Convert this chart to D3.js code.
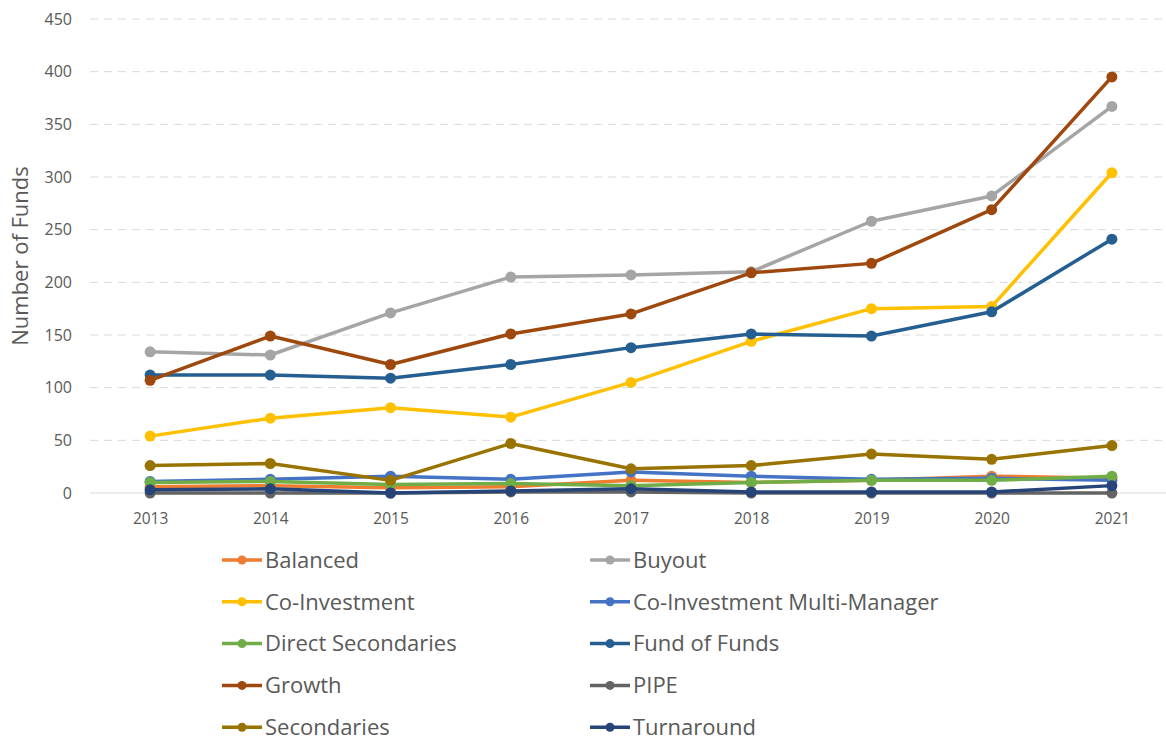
<!DOCTYPE html>
<html>
<head>
<meta charset="utf-8">
<script src="https://cdn.jsdelivr.net/npm/d3@7"></script>
<style>
  body { margin: 0; background: #fff; }
  text { font-family: "Open Sans", "Noto Sans", sans-serif; fill: #595959; }
</style>
</head>
<body>
<script>
// data
var years = ["2013", "2014", "2015", "2016", "2017", "2018", "2019", "2020", "2021"];
var seriesNames = ["Balanced", "Buyout", "Co-Investment", "Co-Investment Multi-Manager",
  "Direct Secondaries", "Fund of Funds", "Growth", "PIPE", "Secondaries", "Turnaround"];
var seriesColors = ["#ED7D31", "#A5A5A5", "#FFC000", "#4472C4", "#70AD47",
  "#255E91", "#9E480E", "#636363", "#997300", "#264478"];
var balanced = [6, 7, 5, 6, 12, 10, 12, 16, 14];
var buyout = [134, 131, 171, 205, 207, 210, 258, 282, 367];
var coInvestment = [54, 71, 81, 72, 105, 144, 175, 177, 304];
var coInvestmentMM = [11, 13, 16, 13, 20, 16, 13, 14, 12];
var directSecondaries = [10, 11, 8, 9, 7, 10, 12, 12, 16];
var fundOfFunds = [112, 112, 109, 122, 138, 151, 149, 172, 241];
var growth = [107, 149, 122, 151, 170, 209, 218, 269, 395];
var pipe = [0, 0, 0, 1, 1, 0, 0, 0, 0];
var secondaries = [26, 28, 12, 47, 23, 26, 37, 32, 45];
var turnaround = [3, 4, 0, 2, 4, 1, 1, 1, 7];
var yTicks = [0, 50, 100, 150, 200, 250, 300, 350, 400, 450];

var allValues = [balanced, buyout, coInvestment, coInvestmentMM, directSecondaries,
  fundOfFunds, growth, pipe, secondaries, turnaround];

const width = 1166, height = 744;
const plotLeft = 90, plotRight = 1172, plotTop = 19, plotBottom = 493;

const svg = d3.select("body")
    .append("svg")
    .attr("width", width)
    .attr("height", height);

var x = d3.scalePoint().domain(years).range([plotLeft, plotRight]).padding(0.5);
var y = d3.scaleLinear().domain([0, 450]).range([plotBottom, plotTop]);

// gridlines
svg.append("g")
    .selectAll("line")
    .data(yTicks)
    .enter()
    .append("line")
    .attr("x1", plotLeft)
    .attr("x2", plotRight)
    .attr("y1", d => y(d))
    .attr("y2", d => y(d))
    .attr("stroke", "#d9d9d9")
    .attr("stroke-width", 1)
    .attr("stroke-dasharray", d => d === 0 ? null : "8,6");

// y axis labels
var yAxis = svg.append("g")
    .attr("transform", "translate(" + (plotLeft - 18) + ",0)")
    .call(d3.axisLeft(y).tickValues(yTicks).tickSize(0).tickPadding(0));
yAxis.select(".domain").remove();
yAxis.selectAll("text")
    .attr("font-size", "16px")
    .style("font-family", "'Open Sans', sans-serif")
    .attr("fill", "#595959");

// x axis labels
var xAxis = svg.append("g")
    .attr("transform", "translate(0," + plotBottom + ")")
    .call(d3.axisBottom(x).tickSize(0).tickPadding(20));
xAxis.select(".domain").remove();
xAxis.selectAll("text")
    .attr("font-size", "15.5px")
    .style("font-family", "'Open Sans', sans-serif")
    .attr("fill", "#595959");

// y axis title
svg.append("text")
    .attr("transform", "translate(28,256) rotate(-90)")
    .attr("text-anchor", "middle")
    .attr("font-size", "22px")
    .text("Number of Funds");

// lines
var line = d3.line()
    .x((d, i) => x(years[i]))
    .y(d => y(d));

var series = svg.selectAll(".series")
    .data(allValues)
    .enter()
    .append("g")
    .attr("class", "series");

series.append("path")
    .attr("d", d => line(d))
    .attr("fill", "none")
    .attr("stroke", (d, i) => seriesColors[i])
    .attr("stroke-width", 3.5)
    .attr("stroke-linejoin", "round");

series.each(function(vals, si) {
  d3.select(this).selectAll("circle")
      .data(vals)
      .enter()
      .append("circle")
      .attr("cx", (d, i) => x(years[i]))
      .attr("cy", d => y(d))
      .attr("r", 5.5)
      .attr("fill", seriesColors[si]);
});

// legend
var legend = svg.append("g");
var items = legend.selectAll("g")
    .data(seriesNames)
    .enter()
    .append("g")
    .attr("transform", (d, i) => "translate(" + (i % 2 === 0 ? 222 : 590) + "," + (560 + Math.floor(i / 2) * 41.8) + ")");

items.append("line")
    .attr("x1", 0).attr("x2", 40)
    .attr("y1", 0).attr("y2", 0)
    .attr("stroke", (d, i) => seriesColors[i])
    .attr("stroke-width", 3.5);
items.append("circle")
    .attr("cx", 20).attr("cy", 0).attr("r", 4.5)
    .attr("fill", (d, i) => seriesColors[i]);
items.append("text")
    .attr("x", 43)
    .attr("y", 0)
    .attr("dy", "0.35em")
    .attr("font-size", "22px")
    .text(d => d);
</script>
</body>
</html>
